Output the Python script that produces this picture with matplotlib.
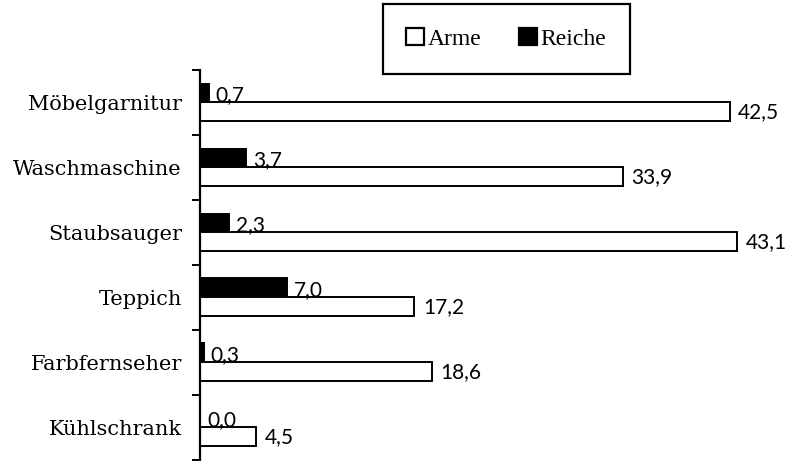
import matplotlib
matplotlib.use("Agg")
import matplotlib.pyplot as plt
import numpy as np
from matplotlib.patches import Patch

categories = ["Möbelgarnitur", "Waschmaschine", "Staubsauger", "Teppich", "Farbfernseher", "Kühlschrank"]
arme = [42.5, 33.9, 43.1, 17.2, 18.6, 4.5]
reiche = [0.7, 3.7, 2.3, 7.0, 0.3, 0.0]
series_names = ["Arme", "Reiche"]

def fmt(v):
    return f"{v:.1f}".replace(".", ",")

fig = plt.figure(figsize=(7.86, 4.61), dpi=100)
ax = fig.add_axes([200/786, 0, 1 - 200/786, (461 - 70)/461])

n = len(categories)
centers = np.arange(n)[::-1].astype(float)  # top category at highest y
h = 0.29

ax.barh(centers + h/2, reiche, height=h, color="black", edgecolor="black", linewidth=1.4)
ax.barh(centers - h/2, arme, height=h, color="white", edgecolor="black", linewidth=1.4)

for c, a, r in zip(centers, arme, reiche):
    ax.annotate(fmt(r), (r, c), xytext=(5, 1), textcoords="offset points",
                ha="left", va="baseline", fontsize=15, family="Lato")
    ax.annotate(fmt(a), (a, c - h/2), xytext=(6, 0), textcoords="offset points",
                ha="left", va="center", fontsize=15, family="Lato")

ax.set_xlim(0, 47)
ax.set_ylim(-0.5 - 0.02, n - 0.5)
ax.set_xticks([])
ax.set_yticks(centers)
ax.set_yticklabels(categories, family="DejaVu Serif", fontsize=15)
ax.tick_params(axis="y", which="major", length=0, pad=13)
ax.set_yticks(np.arange(n + 1) - 0.5, minor=True)
ax.tick_params(axis="y", which="minor", length=6, width=1.4, direction="out")
for s in ["top", "right", "bottom"]:
    ax.spines[s].set_visible(False)
ax.spines["left"].set_linewidth(1.6)

handles = [Patch(facecolor="white", edgecolor="black", linewidth=1.6),
           Patch(facecolor="black", edgecolor="black", linewidth=1.6)]
leg = fig.legend(handles, series_names, loc="center", bbox_to_anchor=(506/786, 1 - 39/461),
                 ncol=2, frameon=True, fancybox=False, edgecolor="black", framealpha=1,
                 prop={"family": "Liberation Serif", "size": 17},
                 handlelength=0.75, handleheight=0.75, handletextpad=0.15, columnspacing=1.6,
                 borderpad=1.0, borderaxespad=0)
leg.get_frame().set_linewidth(1.6)

fig.savefig("out.png", dpi=100)
